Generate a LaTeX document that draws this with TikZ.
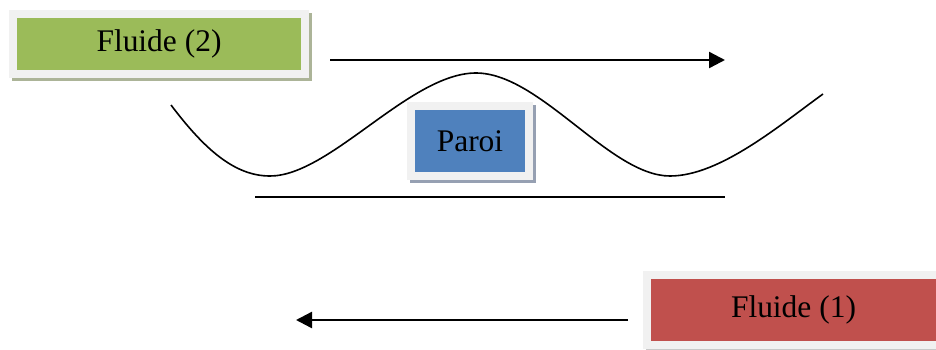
\documentclass[tikz,border=0pt]{standalone}
\usepackage{fontspec}
\setmainfont{Liberation Serif}
\usetikzlibrary{arrows.meta,backgrounds,calc}
\definecolor{fgreen}{RGB}{155,187,89}
\definecolor{fblue}{RGB}{79,129,189}
\definecolor{fred}{RGB}{192,80,77}
\definecolor{frame}{RGB}{241,241,241}
\definecolor{shG}{RGB}{172,180,152}
\definecolor{shB}{RGB}{150,160,178}
\definecolor{shR}{RGB}{200,200,200}
\tikzset{
  x=0.75pt, y=-0.75pt,
  fbox/.style={draw=frame, line width=6pt, inner sep=0pt, font=\fontsize{23.6pt}{28pt}\selectfont},
  flow/.style={line width=1.8pt, -{Triangle[length=12pt,width=12pt]}},
  wall/.style={line width=1.8pt},
  wave/.style={line width=1.2pt},
}
\begin{document}
\begin{tikzpicture}
\clip (0,0) rectangle (936,350);
\useasboundingbox (0,0) rectangle (936,350);

\node[fbox, fill=fgreen, minimum width=219pt, minimum height=45pt] (f2) at (159,44) {Fluide (2)};
\node[fbox, fill=fblue, minimum width=88.5pt, minimum height=52.5pt] (paroi) at (470,141) {Paroi};
\node[fbox, fill=fred, minimum width=219.75pt, minimum height=52.5pt] (f1) at (793.5,310) {Fluide (1)};

\begin{scope}[on background layer]
  \fill[white] (0,0) rectangle (936,350);
  \fill[shG] ($(f2.north west)+(3,3)$) rectangle ($(f2.south east)+(3,3)$);
  \fill[shB] ($(paroi.north west)+(3,3)$) rectangle ($(paroi.south east)+(3,3)$);
  \fill[shR] ($(f1.north west)+(3,3)$) rectangle ($(f1.south east)+(3,3)$);
\end{scope}

\coordinate (a2s) at (330,60);
\coordinate (a2e) at (725,60);
\coordinate (a1s) at (628,320);
\coordinate (a1e) at (296,320);
\coordinate (ws) at (255,197);
\coordinate (we) at (725,197);

\draw[flow] (a2s) -- (a2e);
\draw[flow] (a1s) -- (a1e);
\draw[wall] (ws) -- (we);

\draw[wave] (171,105) .. controls (205,150) and (235,176) .. (270,176)
  .. controls (330,176) and (410,73) .. (476,73)
  .. controls (540,73) and (610,176) .. (670,176)
  .. controls (720,176) and (780,125) .. (823,94);
\end{tikzpicture}
\end{document}
